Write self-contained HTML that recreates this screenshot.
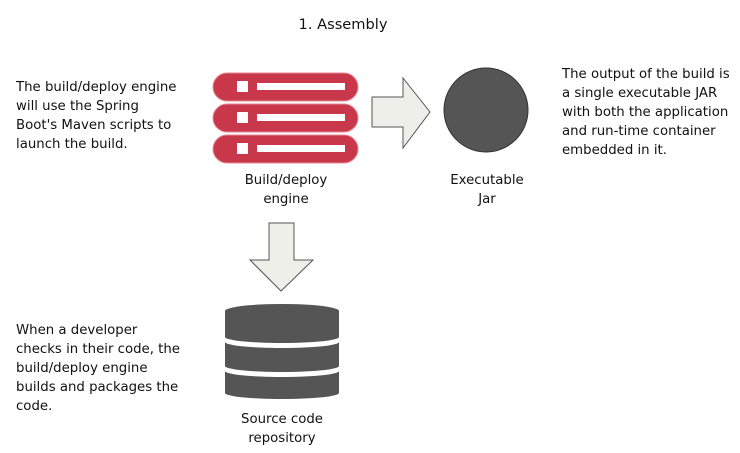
<!DOCTYPE html>
<html><head><style>
body{margin:0;width:740px;height:453px;background:#fff;position:relative;overflow:hidden;font-family:"DejaVu Sans",Verdana,sans-serif;font-size:13.3px;color:#111}
.t{position:absolute;line-height:19px;white-space:nowrap}
.c{text-align:center}
</style></head><body>
<div class="t c" style="left:263px;top:15px;width:160px;font-size:14.6px">1. Assembly</div>
<div class="t" style="left:16px;top:78px">The build/deploy engine<br>will use the Spring<br>Boot's Maven scripts to<br>launch the build.</div>
<div class="t" style="left:562px;top:65px">The output of the build is<br>a single executable JAR<br>with both the application<br>and run-time container<br>embedded in it.</div>
<div class="t" style="left:16px;top:321px">When a developer<br>checks in their code, the<br>build/deploy engine<br>builds and packages the<br>code.</div>
<div class="t c" style="left:226px;top:171px;width:120px">Build/deploy<br>engine</div>
<div class="t c" style="left:427px;top:171px;width:120px">Executable<br>Jar</div>
<div class="t c" style="left:222px;top:410px;width:120px">Source code<br>repository</div>
<svg width="740" height="453" style="position:absolute;left:0;top:0">
<g fill="#c9374a" stroke="#e38a96" stroke-width="1">
<rect x="213" y="73" width="145" height="28" rx="14"/>
<rect x="213" y="104" width="145" height="28" rx="14"/>
<rect x="213" y="135" width="145" height="28" rx="14"/>
</g>
<g fill="#fff">
<rect x="237" y="81" width="11" height="11"/><rect x="257" y="83" width="88" height="7"/>
<rect x="237" y="112" width="11" height="11"/><rect x="257" y="114" width="88" height="7"/>
<rect x="237" y="143" width="11" height="11"/><rect x="257" y="145" width="88" height="7"/>
</g>
<polygon points="372,97 403,97 403,78 430,112 403,148 403,127 372,127" fill="#efefe9" stroke="#555" stroke-width="1"/>
<circle cx="486" cy="110" r="42" fill="#555" stroke="#333"/>
<polygon points="269,223 294,223 294,260 313,260 281,291 250,260 269,260" fill="#efefe9" stroke="#555" stroke-width="1"/>
<g fill="#555">
<path d="M225,311 A57,7 0 0 1 339,311 L339,337 A57,6 0 0 1 225,337 Z"/>
<path d="M225,342 A57,6 0 0 0 339,342 L339,366 A57,6 0 0 1 225,366 Z"/>
<path d="M225,371 A57,6 0 0 0 339,371 L339,393 A57,6 0 0 1 225,393 Z"/>
</g>
</svg>
</body></html>
